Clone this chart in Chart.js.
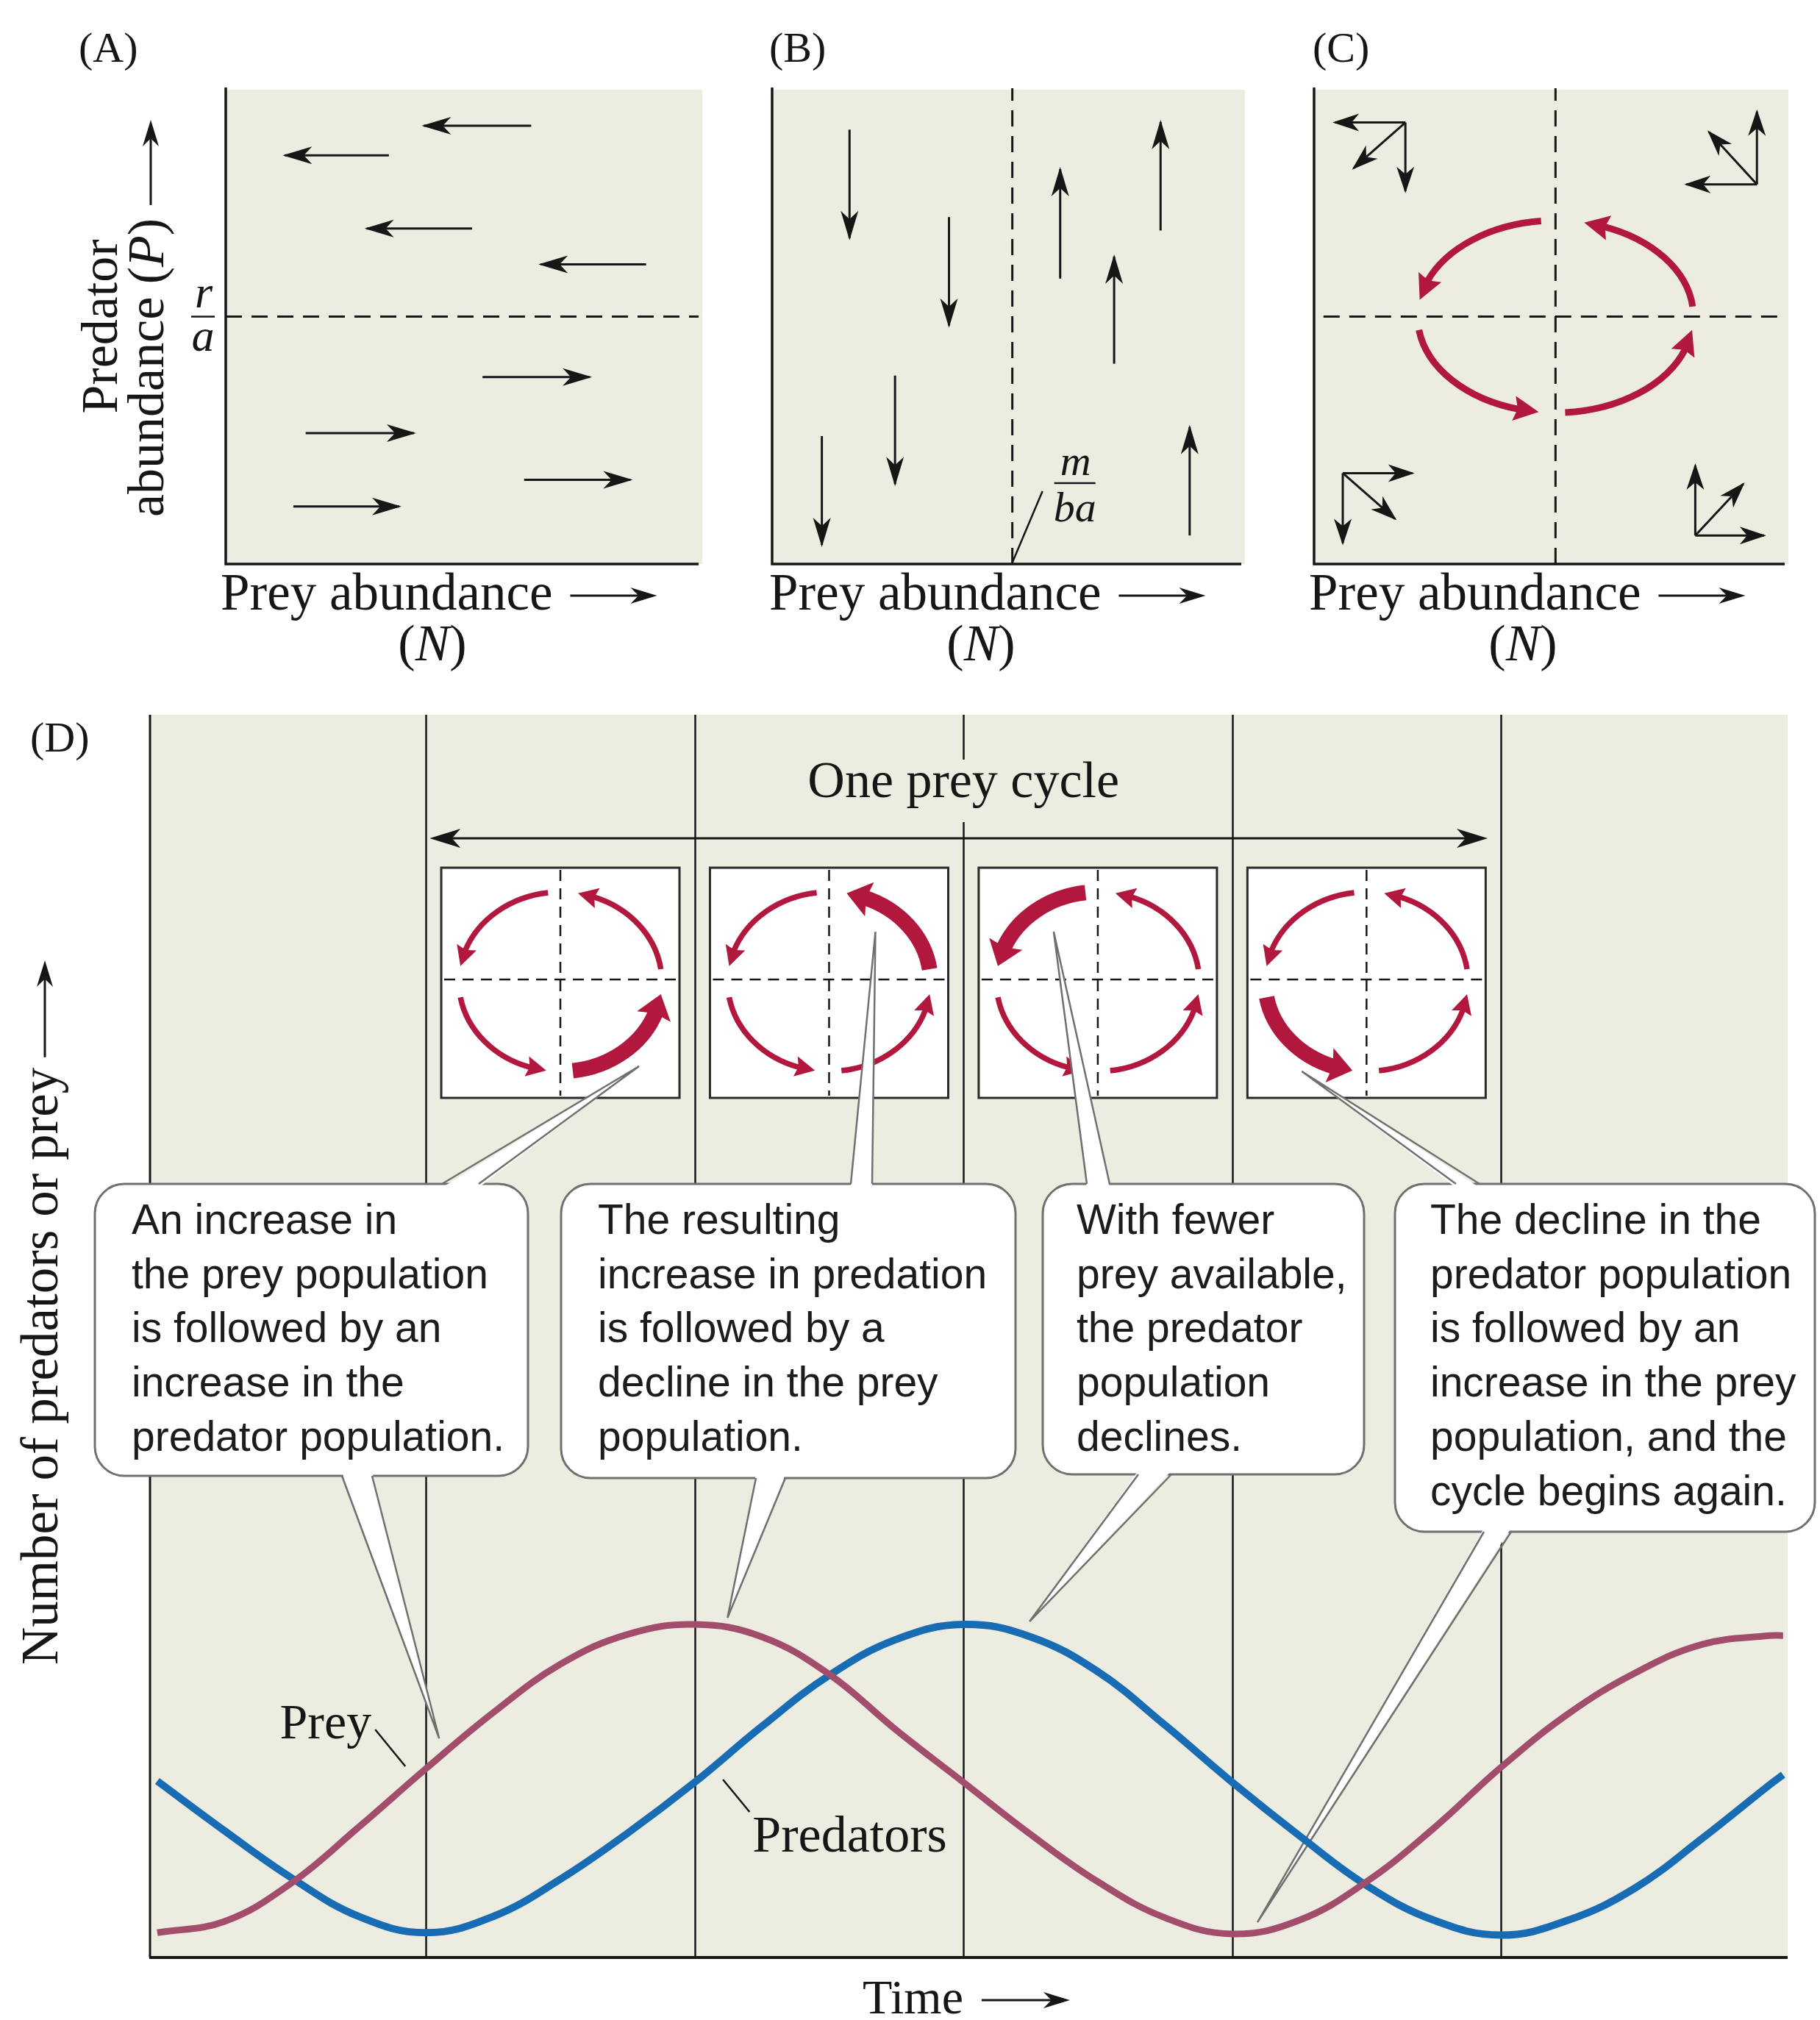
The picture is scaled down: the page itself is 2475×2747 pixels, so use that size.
<!DOCTYPE html>
<html>
<head>
<meta charset="utf-8">
<title>Predator–prey dynamics</title>
<script src="https://cdn.jsdelivr.net/npm/chart.js@4.4.1/dist/chart.umd.min.js"></script>
<style>
  html, body { margin:0; padding:0; background:#ffffff; }
  #fig { position:relative; width:2475px; height:2747px; overflow:hidden; background:#ffffff; }
  #fig canvas { position:absolute; left:0; top:0; }
</style>
</head>
<body>
<div id="fig">
  <canvas id="panelA" width="2475" height="2747"></canvas>
  <canvas id="panelB" width="2475" height="2747"></canvas>
  <canvas id="panelC" width="2475" height="2747"></canvas>
  <canvas id="panelD" width="2475" height="2747"></canvas>
</div>
<script>
// ======================= DATA =======================
const panelLabels = ['(A)', '(B)', '(C)', '(D)'];
const preyAxisTitle = 'Prey abundance';
const preyAxisSymbol = 'N';
const predAxisTitle = ['Predator', 'abundance ('];
const predAxisSymbol = 'P';
const isoA_label = ['r', 'a'];
const isoB_label = ['m', 'ba'];

// Panel A: horizontal arrows (prey change); predator level y, prey from -> to
const arrowsA_y    = [9.21, 8.59, 7.05, 6.30, 3.93, 2.75, 1.77, 1.21];
const arrowsA_from = [6.46, 3.45, 5.21, 8.89, 5.43, 1.69, 6.31, 1.43];
const arrowsA_to   = [4.19, 1.25, 2.98, 6.66, 7.70, 3.98, 8.56, 3.67];
const isoclineA_P = 5.20;           // r/a

// Panel B: vertical arrows (predator change); prey level x, predator from -> to
const arrowsB_x    = [1.65, 3.77, 2.62, 1.06, 6.14, 8.28, 7.29, 8.90];
const arrowsB_from = [9.13, 7.29, 3.96, 2.69, 6.00, 7.01, 4.21, 0.60];
const arrowsB_to   = [6.85, 5.01, 1.68, 0.40, 8.30, 9.29, 6.46, 2.88];
const isoclineB_N = 5.12;           // m/ba

// Panel C: combined vectors and the cycle
const isoclineC_N = 5.13;
const isoclineC_P = 5.20;
const clusterOrigin = [[1.94, 9.28], [9.41, 7.98], [0.61, 1.91], [8.10, 0.60]];
const clusterTips = [
  [[0.44, 9.28], [1.94, 7.84], [0.84, 8.32]],
  [[9.41, 9.51], [7.91, 7.98], [8.39, 9.08]],
  [[2.09, 1.91], [0.61, 0.44], [1.72, 0.95]],
  [[8.10, 2.07], [9.56, 0.60], [9.12, 1.68]]
];
const cycleCentre = [5.13, 5.20];
const cycleRadii  = [2.93, 2.02];
const cycleArcsDeg = [[6, 78], [96, 170], [188, 263], [274, 352]];

// Panel D: time series (time in quarter-cycles)
const timeD     = [0, 0.25, 0.5, 0.75, 1, 1.25, 1.5, 1.75, 2, 2.25, 2.5, 2.75, 3, 3.25, 3.5, 3.75, 4, 4.25, 4.5, 4.75, 5, 5.25, 5.5, 5.75, 6, 6.05];
const preyD     = [2.0, 2.9, 6.0, 10.5, 15.2, 19.7, 23.6, 26.0, 26.8, 25.8, 22.8, 18.3, 14.1, 9.9, 6.1, 3.2, 1.9, 3.0, 6.1, 10.4, 15.3, 19.6, 22.9, 25.2, 25.9, 25.9];
const predatorD = [14.2, 10.2, 6.4, 3.3, 2.0, 3.3, 6.3, 10.0, 14.1, 18.6, 22.7, 25.6, 26.8, 25.8, 23.0, 18.7, 14.1, 9.8, 5.8, 3.0, 1.8, 3.0, 5.6, 9.6, 13.9, 14.7];
const quarterLines = [1, 2, 3, 4, 5];
const cycleSpan = [1, 5];
const cycleTitle = 'One prey cycle';
const phaseBoxT = [1.5, 2.5, 3.5, 4.5];
const thickArcIdx = [3, 0, 1, 2];
const smallArcsDeg = [[8, 80], [97, 170], [190, 262], [277, 352]];
const seriesNames = ['Prey', 'Predators'];
const timeTitle = 'Time';
const countTitle = 'Number of predators or prey';
const calloutTexts = [
  ['An increase in', 'the prey population', 'is followed by an', 'increase in the', 'predator population.'],
  ['The resulting', 'increase in predation', 'is followed by a', 'decline in the prey', 'population.'],
  ['With fewer', 'prey available,', 'the predator', 'population', 'declines.'],
  ['The decline in the', 'predator population', 'is followed by an', 'increase in the prey', 'population, and the', 'cycle begins again.']
];

// ======================= LAYOUT / STYLE =======================
const W = 2475, H = 2747;
const SERIF = '"Liberation Serif","Times New Roman",serif';
const SANS = '"Liberation Sans",Arial,Helvetica,sans-serif';
const INK = '#161616';
const BEIGE = '#ecece0';
const RED = '#b2173e';
const PREY_COL = '#a34d6d';
const PRED_COL = '#176cb4';
const GREY = '#707070';

const AREA_A = {l: 307, t: 120, r: 950, b: 767};
const AREA_B = {l: 1050, t: 120, r: 1688, b: 767};
const AREA_C = {l: 1787, t: 120, r: 2427, b: 767};
const AREA_D = {l: 204, t: 972, r: 2431, b: 2662};

const calloutBoxes = [
  {x0: 129, x1: 718, y0: 1610, y1: 2007, tx: 179},
  {x0: 763, x1: 1381, y0: 1610, y1: 2010, tx: 813},
  {x0: 1418, x1: 1855, y0: 1610, y1: 2005, tx: 1464},
  {x0: 1897, x1: 2468, y0: 1610, y1: 2083, tx: 1945}
];
const topPointerBase = [[601, 651], [1157, 1186], [1478, 1509], [1980, 2012]];
const topPointerOffset = [[107, 114], [63, -69], [-60, -69], [-88, 121]];
const botPointerBase = [[465, 506], [1028, 1068], [1548, 1593], [2018, 2055]];
const botPointerTip = [[1.049, 17.63], [2.122, 27.34], [3.246, 27.04], [4.094, 2.84]];

// ======================= HELPERS =======================
function font(size, italic) { return (italic ? 'italic ' : '') + size + 'px ' + SERIF; }

function drawParts(ctx, parts, x, y, size, align) {
  const widths = parts.map(p => { ctx.font = font(size, p.i); return ctx.measureText(p.t).width; });
  const total = widths.reduce((a, b) => a + b, 0);
  let sx = align === 'center' ? x - total / 2 : (align === 'right' ? x - total : x);
  ctx.textAlign = 'left'; ctx.textBaseline = 'alphabetic'; ctx.fillStyle = INK;
  parts.forEach((p, k) => { ctx.font = font(size, p.i); ctx.fillText(p.t, sx, y); sx += widths[k]; });
  return total;
}

function headAt(ctx, tx, ty, fx, fy, len, hw, color, notch) {
  const a = Math.atan2(ty - fy, tx - fx);
  ctx.save();
  ctx.translate(tx, ty); ctx.rotate(a);
  ctx.beginPath();
  ctx.moveTo(0, 0); ctx.lineTo(-len, -hw); ctx.lineTo(-len * (notch || 0.75), 0); ctx.lineTo(-len, hw);
  ctx.closePath();
  ctx.fillStyle = color; ctx.fill();
  ctx.restore();
}

function textArrow(ctx, x0, y0, x1, y1, lw) {
  const a = Math.atan2(y1 - y0, x1 - x0);
  ctx.save();
  ctx.strokeStyle = INK; ctx.lineWidth = lw || 3;
  ctx.beginPath(); ctx.moveTo(x0, y0); ctx.lineTo(x1 - 20 * Math.cos(a), y1 - 20 * Math.sin(a)); ctx.stroke();
  ctx.restore();
  headAt(ctx, x1, y1, x0, y0, 36, 11, INK, 0.7);
}

function roundRectPath(ctx, x0, y0, x1, y1, r) {
  ctx.beginPath();
  ctx.moveTo(x0 + r, y0); ctx.lineTo(x1 - r, y0); ctx.arcTo(x1, y0, x1, y0 + r, r);
  ctx.lineTo(x1, y1 - r); ctx.arcTo(x1, y1, x1 - r, y1, r);
  ctx.lineTo(x0 + r, y1); ctx.arcTo(x0, y1, x0, y1 - r, r);
  ctx.lineTo(x0, y0 + r); ctx.arcTo(x0, y0, x0 + r, y0, r);
  ctx.closePath();
}

function ellArc(ctx, cx, cy, rx, ry, d0, d1, lw, hLen, hHw, color) {
  const rad = Math.PI / 180;
  const P = d => [cx + rx * Math.cos(d * rad), cy - ry * Math.sin(d * rad)];
  const e = d1 * rad;
  const reff = Math.sqrt(Math.pow(rx * Math.sin(e), 2) + Math.pow(ry * Math.cos(e), 2));
  const dHead = (hLen / reff) / rad;
  ctx.save();
  ctx.strokeStyle = color; ctx.lineWidth = lw; ctx.lineCap = 'butt';
  ctx.beginPath();
  ctx.ellipse(cx, cy, rx, ry, 0, -d0 * rad, -(d1 - dHead * 0.8) * rad, true);
  ctx.stroke();
  ctx.restore();
  const tip = P(d1), back = P(d1 - dHead);
  headAt(ctx, tip[0], tip[1], back[0], back[1], hLen, hHw, color, 0.85);
}

function dashedLine(ctx, x0, y0, x1, y1, dash, lw) {
  ctx.save(); ctx.strokeStyle = INK; ctx.lineWidth = lw; ctx.setLineDash(dash);
  ctx.beginPath(); ctx.moveTo(x0, y0); ctx.lineTo(x1, y1); ctx.stroke(); ctx.restore();
}

// ======================= PHASE PANELS (A, B, C) =======================
function arrowDataset(x0, y0, x1, y1, lw, head) {
  return {data: [{x: x0, y: y0}, {x: x1, y: y1}], borderColor: INK, borderWidth: lw, pointRadius: 0, fill: false, head: head};
}
function isoDataset(x0, y0, x1, y1) {
  return {data: [{x: x0, y: y0}, {x: x1, y: y1}], borderColor: INK, borderWidth: 3, borderDash: [22, 13], pointRadius: 0, fill: false};
}

function phaseBackground(chart) {
  const ctx = chart.ctx, a = chart.chartArea;
  ctx.save(); ctx.fillStyle = BEIGE;
  ctx.fillRect(a.left + 2, a.top + 2, a.right - a.left + 3, a.bottom - a.top - 2);
  ctx.restore();
}
function phaseAxes(chart) {
  const ctx = chart.ctx, a = chart.chartArea;
  ctx.save(); ctx.strokeStyle = INK; ctx.lineWidth = 3.5; ctx.lineJoin = 'miter';
  ctx.beginPath(); ctx.moveTo(a.left, a.top - 1); ctx.lineTo(a.left, a.bottom); ctx.lineTo(a.right, a.bottom); ctx.stroke();
  ctx.restore();
}
function datasetHeads(chart) {
  const ctx = chart.ctx;
  chart.data.datasets.forEach((ds, i) => {
    if (!ds.head) return;
    const m = chart.getDatasetMeta(i);
    const p0 = m.data[0], p1 = m.data[m.data.length - 1];
    const ang = Math.atan2(p1.y - p0.y, p1.x - p0.x);
    headAt(ctx, p1.x + 3 * Math.cos(ang), p1.y + 3 * Math.sin(ang), p0.x, p0.y, ds.head[0], ds.head[1], ds.borderColor, 0.72);
  });
}
function preyTitle(ctx, left, nCenter) {
  ctx.save();
  ctx.fillStyle = INK; ctx.font = font(71); ctx.textAlign = 'left'; ctx.textBaseline = 'alphabetic';
  ctx.fillText(preyAxisTitle, left, 829);
  const w = ctx.measureText(preyAxisTitle).width;
  textArrow(ctx, left + w + 24, 810, left + w + 142, 810);
  drawParts(ctx, [{t: '('}, {t: preyAxisSymbol, i: true}, {t: ')'}], nCenter, 898, 70, 'center');
  ctx.restore();
}
function panelLetter(ctx, txt, x, y) {
  ctx.save(); ctx.fillStyle = INK; ctx.font = font(58); ctx.textAlign = 'left'; ctx.textBaseline = 'alphabetic';
  ctx.fillText(txt, x, y); ctx.restore();
}

function makePhase(id, area, datasets, after) {
  return new Chart(document.getElementById(id), {
    type: 'line',
    data: {datasets: datasets},
    options: {
      responsive: false, maintainAspectRatio: false, animation: false, devicePixelRatio: 1, events: [],
      layout: {padding: {left: area.l, top: area.t, right: W - area.r, bottom: H - area.b}},
      plugins: {legend: {display: false}, tooltip: {enabled: false}, title: {display: false}},
      scales: {
        x: {type: 'linear', min: 0, max: 10, display: false},
        y: {type: 'linear', min: 0, max: 10, display: false}
      },
      elements: {point: {radius: 0, hoverRadius: 0}, line: {tension: 0, borderCapStyle: 'butt'}}
    },
    plugins: [{
      id: 'deco_' + id,
      beforeDraw: phaseBackground,
      afterDatasetsDraw: chart => { phaseAxes(chart); datasetHeads(chart); after(chart); }
    }]
  });
}

// ---- Panel A ----
const dsA = [isoDataset(0, isoclineA_P, 10, isoclineA_P)];
arrowsA_y.forEach((y, i) => dsA.push(arrowDataset(arrowsA_from[i], y, arrowsA_to[i], y, 3, [40, 12])));
makePhase('panelA', AREA_A, dsA, chart => {
  const ctx = chart.ctx, ys = chart.scales.y;
  panelLetter(ctx, panelLabels[0], 107, 84);
  const yi = ys.getPixelForValue(isoclineA_P);
  ctx.save();
  ctx.fillStyle = INK; ctx.font = font(62, true); ctx.textAlign = 'center'; ctx.textBaseline = 'alphabetic';
  ctx.fillText(isoA_label[0], 277, yi - 13);
  ctx.fillText(isoA_label[1], 276, yi + 46);
  ctx.strokeStyle = INK; ctx.lineWidth = 2.5;
  ctx.beginPath(); ctx.moveTo(260, yi); ctx.lineTo(292, yi); ctx.stroke();
  ctx.restore();
  ctx.save(); ctx.fillStyle = INK;
  ctx.translate(159, 444); ctx.rotate(-Math.PI / 2);
  ctx.font = font(70); ctx.textAlign = 'center'; ctx.textBaseline = 'alphabetic';
  ctx.fillText(predAxisTitle[0], 0, 0);
  ctx.restore();
  ctx.save();
  ctx.translate(222, 703); ctx.rotate(-Math.PI / 2);
  const w = drawParts(ctx, [{t: predAxisTitle[1]}, {t: predAxisSymbol, i: true}, {t: ')'}], 0, 0, 70, 'left');
  textArrow(ctx, w + 18, -17, 703 - 163, -17);
  ctx.restore();
  preyTitle(ctx, 300, 588);
});

// ---- Panel B ----
const dsB = [isoDataset(isoclineB_N, 0, isoclineB_N, 10)];
arrowsB_x.forEach((x, i) => dsB.push(arrowDataset(x, arrowsB_from[i], x, arrowsB_to[i], 3, [40, 12])));
makePhase('panelB', AREA_B, dsB, chart => {
  const ctx = chart.ctx, xs = chart.scales.x, ys = chart.scales.y;
  panelLetter(ctx, panelLabels[1], 1046, 84);
  const xi = xs.getPixelForValue(isoclineB_N), yb = ys.getPixelForValue(0);
  ctx.save();
  ctx.strokeStyle = INK; ctx.lineWidth = 2.5;
  ctx.beginPath(); ctx.moveTo(xi, yb - 2); ctx.lineTo(xi + 41, yb - 99); ctx.stroke();
  ctx.beginPath(); ctx.moveTo(xi + 57, yb - 110); ctx.lineTo(xi + 113, yb - 110); ctx.stroke();
  ctx.fillStyle = INK; ctx.font = font(58, true); ctx.textAlign = 'center'; ctx.textBaseline = 'alphabetic';
  ctx.fillText(isoB_label[0], xi + 86, yb - 121);
  ctx.fillText(isoB_label[1], xi + 85, yb - 58);
  ctx.restore();
  preyTitle(ctx, 1046, 1334);
});

// ---- Panel C ----
const dsC = [isoDataset(0.2, isoclineC_P, 10, isoclineC_P), isoDataset(isoclineC_N, 0, isoclineC_N, 10)];
clusterOrigin.forEach((o, i) => clusterTips[i].forEach(t => dsC.push(arrowDataset(o[0], o[1], t[0], t[1], 3, [36, 12]))));
makePhase('panelC', AREA_C, dsC, chart => {
  const ctx = chart.ctx, xs = chart.scales.x, ys = chart.scales.y;
  panelLetter(ctx, panelLabels[2], 1785, 84);
  const cx = xs.getPixelForValue(cycleCentre[0]), cy = ys.getPixelForValue(cycleCentre[1]);
  const rx = xs.getPixelForValue(cycleCentre[0] + cycleRadii[0]) - cx;
  const ry = cy - ys.getPixelForValue(cycleCentre[1] + cycleRadii[1]);
  cycleArcsDeg.forEach(a => ellArc(ctx, cx, cy, rx, ry, a[0], a[1], 9, 34, 17, RED));
  preyTitle(ctx, 1780, 2071);
});

// ======================= PANEL D =======================
function drawSmallBox(ctx, cx, thick) {
  const x0 = cx - 162, x1 = cx + 162, y0 = 1180, y1 = 1493;
  ctx.save();
  ctx.fillStyle = '#ffffff'; ctx.fillRect(x0, y0, x1 - x0, y1 - y0);
  ctx.strokeStyle = '#2a2a2a'; ctx.lineWidth = 3; ctx.strokeRect(x0, y0, x1 - x0, y1 - y0);
  ctx.restore();
  dashedLine(ctx, cx, y0 + 3, cx, y1 - 3, [15, 10], 2.5);
  dashedLine(ctx, x0 + 4, 1332, x1 - 4, 1332, [15, 10], 2.5);
  smallArcsDeg.forEach((a, k) => {
    if (k === thick) ellArc(ctx, cx, 1335, 138, 122, a[0], a[1], 21, 32, 24, RED);
    else ellArc(ctx, cx, 1335, 138, 122, a[0], a[1], 7.5, 27, 14, RED);
  });
}

function drawCallout(ctx, k, topTip, botTip) {
  const b = calloutBoxes[k];
  ctx.save();
  roundRectPath(ctx, b.x0, b.y0, b.x1, b.y1, 40);
  ctx.fillStyle = '#ffffff'; ctx.fill();
  ctx.strokeStyle = GREY; ctx.lineWidth = 3; ctx.stroke();
  const ptrs = [
    {b0: topPointerBase[k][0], b1: topPointerBase[k][1], y: b.y0, dir: 1, tip: topTip},
    {b0: botPointerBase[k][0], b1: botPointerBase[k][1], y: b.y1, dir: -1, tip: botTip}
  ];
  ptrs.forEach(p => {
    ctx.beginPath();
    ctx.moveTo(p.b0, p.y + 5 * p.dir); ctx.lineTo(p.tip[0], p.tip[1]); ctx.lineTo(p.b1, p.y + 5 * p.dir);
    ctx.closePath(); ctx.fillStyle = '#ffffff'; ctx.fill();
    ctx.beginPath();
    ctx.moveTo(p.b0, p.y); ctx.lineTo(p.tip[0], p.tip[1]); ctx.lineTo(p.b1, p.y);
    ctx.strokeStyle = GREY; ctx.lineWidth = 2.5; ctx.lineJoin = 'miter'; ctx.stroke();
  });
  ctx.fillStyle = '#1c1c1c'; ctx.font = '57px ' + SANS; ctx.textAlign = 'left'; ctx.textBaseline = 'alphabetic';
  calloutTexts[k].forEach((line, i) => ctx.fillText(line, b.tx, 1678 + i * 73.7));
  ctx.restore();
}

new Chart(document.getElementById('panelD'), {
  type: 'line',
  data: {
    datasets: [
      {label: seriesNames[0], data: timeD.map((t, i) => ({x: t, y: preyD[i]})), borderColor: PREY_COL, borderWidth: 9,
       tension: 0.4, pointRadius: 0, fill: false, borderCapStyle: 'butt'},
      {label: seriesNames[1], data: timeD.map((t, i) => ({x: t, y: predatorD[i]})), borderColor: PRED_COL, borderWidth: 10,
       tension: 0.4, pointRadius: 0, fill: false, borderCapStyle: 'butt'}
    ]
  },
  options: {
    responsive: false, maintainAspectRatio: false, animation: false, devicePixelRatio: 1, events: [],
    layout: {padding: {left: AREA_D.l, top: AREA_D.t, right: W - AREA_D.r, bottom: H - AREA_D.b}},
    plugins: {legend: {display: false}, tooltip: {enabled: false}, title: {display: false}},
    scales: {
      x: {type: 'linear', min: -0.027, max: 6.067, display: false},
      y: {type: 'linear', min: 0, max: 100, display: false}
    },
    elements: {point: {radius: 0, hoverRadius: 0}}
  },
  plugins: [{
    id: 'decoD',
    beforeDraw(chart) {
      const ctx = chart.ctx, a = chart.chartArea;
      ctx.save(); ctx.fillStyle = BEIGE; ctx.fillRect(a.left, a.top, a.right - a.left, a.bottom - a.top); ctx.restore();
    },
    beforeDatasetsDraw(chart) {
      const ctx = chart.ctx, a = chart.chartArea, xs = chart.scales.x, ys = chart.scales.y;
      // left axis + quarter-cycle lines (under the callouts)
      ctx.save(); ctx.strokeStyle = INK;
      ctx.lineWidth = 3; ctx.beginPath(); ctx.moveTo(a.left, a.top); ctx.lineTo(a.left, a.bottom); ctx.stroke();
      ctx.lineWidth = 2.5;
      quarterLines.forEach(t => {
        const x = Math.round(xs.getPixelForValue(t)) + 0.5;
        ctx.beginPath(); ctx.moveTo(x, a.top); ctx.lineTo(x, a.bottom); ctx.stroke();
      });
      ctx.restore();
      // One prey cycle title + double arrow
      const xc = xs.getPixelForValue((cycleSpan[0] + cycleSpan[1]) / 2);
      ctx.save();
      ctx.font = font(70); const tw = ctx.measureText(cycleTitle).width;
      ctx.fillStyle = BEIGE; ctx.fillRect(xc - tw / 2 - 8, 1033, tw + 16, 85);
      ctx.fillStyle = INK; ctx.textAlign = 'center'; ctx.textBaseline = 'alphabetic';
      ctx.fillText(cycleTitle, xc, 1084);
      ctx.restore();
      const xl = xs.getPixelForValue(cycleSpan[0]) + 5, xr = xs.getPixelForValue(cycleSpan[1]) - 18;
      ctx.save(); ctx.strokeStyle = INK; ctx.lineWidth = 3;
      ctx.beginPath(); ctx.moveTo(xl + 25, 1140); ctx.lineTo(xr - 25, 1140); ctx.stroke(); ctx.restore();
      headAt(ctx, xl, 1140, xr, 1140, 42, 13, INK, 0.72);
      headAt(ctx, xr, 1140, xl, 1140, 42, 13, INK, 0.72);
      // phase-plane thumbnails
      const centres = phaseBoxT.map(t => xs.getPixelForValue(t));
      centres.forEach((cx, i) => drawSmallBox(ctx, cx, thickArcIdx[i]));
      // callouts
      centres.forEach((cx, i) => {
        const topTip = [cx + topPointerOffset[i][0], 1336 + topPointerOffset[i][1]];
        const botTip = [xs.getPixelForValue(botPointerTip[i][0]), ys.getPixelForValue(botPointerTip[i][1])];
        drawCallout(ctx, i, topTip, botTip);
      });
    },
    afterDatasetsDraw(chart) {
      const ctx = chart.ctx, a = chart.chartArea, xs = chart.scales.x, ys = chart.scales.y;
      // bottom axis
      ctx.save(); ctx.strokeStyle = INK;
      ctx.lineWidth = 4; ctx.beginPath(); ctx.moveTo(a.left - 1, a.bottom); ctx.lineTo(a.right, a.bottom); ctx.stroke();
      ctx.restore();
      // series labels with leaders
      ctx.save();
      ctx.fillStyle = INK; ctx.textAlign = 'left'; ctx.textBaseline = 'alphabetic';
      ctx.font = font(68); ctx.fillText(seriesNames[0], xs.getPixelForValue(0.456), ys.getPixelForValue(17.63));
      ctx.font = font(70); ctx.fillText(seriesNames[1], xs.getPixelForValue(2.215), ys.getPixelForValue(8.52));
      ctx.strokeStyle = INK; ctx.lineWidth = 2.5;
      ctx.beginPath(); ctx.moveTo(xs.getPixelForValue(0.811), ys.getPixelForValue(18.34)); ctx.lineTo(xs.getPixelForValue(0.923), ys.getPixelForValue(15.38)); ctx.stroke();
      ctx.beginPath(); ctx.moveTo(xs.getPixelForValue(2.105), ys.getPixelForValue(14.32)); ctx.lineTo(xs.getPixelForValue(2.204), ys.getPixelForValue(11.72)); ctx.stroke();
      ctx.restore();
      // Time title
      ctx.save();
      ctx.fillStyle = INK; ctx.font = font(66); ctx.textAlign = 'left'; ctx.textBaseline = 'alphabetic';
      ctx.fillText(timeTitle, 1173, 2738);
      const tw = ctx.measureText(timeTitle).width;
      textArrow(ctx, 1173 + tw + 25, 2720, 1173 + tw + 145, 2720);
      ctx.restore();
      // Y title
      ctx.save();
      ctx.translate(78, 2264); ctx.rotate(-Math.PI / 2);
      const w = drawParts(ctx, [{t: countTitle}], 0, 0, 71, 'left');
      textArrow(ctx, w + 14, -17, 2264 - 1306, -17);
      ctx.restore();
      panelLetter(ctx, panelLabels[3], 41, 1022);
    }
  }]
});
</script>
</body>
</html>
